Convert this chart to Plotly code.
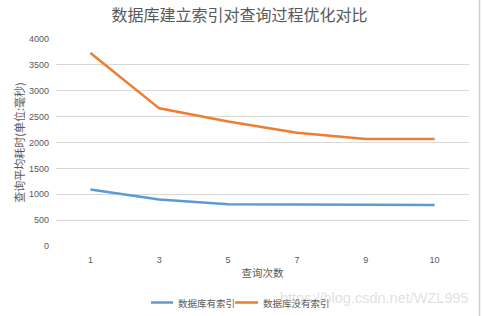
import plotly.graph_objects as go

categories = ["1", "3", "5", "7", "9", "10"]
with_index = [1090, 900, 805, 800, 795, 790]
without_index = [3730, 2660, 2405, 2187, 2070, 2070]
y_ticks = [0, 500, 1000, 1500, 2000, 2500, 3000, 3500, 4000]
series_names = ["数据库有索引", "数据库没有索引"]
series_colors = ["#5B9BD5", "#ED7D31"]

TXT = "#595959"
FONT = "Liberation Sans, Noto Sans CJK SC, sans-serif"
CJK = "Noto Sans CJK SC"

L, R, T, B = 56, 13, 39, 70
W, H = 482, 316
PW, PH = W - L - R, H - T - B


def px(x):
    return (x - L) / PW


def py(y):
    return 1 - (y - T) / PH


fig = go.Figure()
for name, vals, col in zip(series_names, [with_index, without_index], series_colors):
    fig.add_trace(go.Scatter(x=categories, y=vals, mode="lines", name=name,
                             line=dict(color=col, width=2.5), showlegend=False))

fig.update_layout(
    width=W, height=H,
    margin=dict(l=L, r=R, t=T, b=B, autoexpand=False),
    paper_bgcolor="white", plot_bgcolor="white",
    font=dict(family=FONT, color=TXT, size=9),
    title=dict(text="数据库建立索引对查询过程优化对比", x=0.497, xanchor="center",
               y=1 - 15 / H, yanchor="middle",
               font=dict(size=16, color=TXT, family=CJK)),
    xaxis=dict(type="category", range=[-0.5, 5.5], showgrid=False, zeroline=False, showline=False,
               ticks="", tickfont=dict(size=9, color=TXT), automargin=False,
               ticklabelstandoff=7,
               title=dict(text="查询次数", font=dict(size=10.5, color=TXT, family=CJK),
                          standoff=5)),
    yaxis=dict(range=[0, 4000], tickvals=y_ticks, showgrid=True, gridcolor="#D9D9D9",
               gridwidth=1, zeroline=False, showline=False, ticks="", automargin=False,
               tickfont=dict(size=9, color=TXT), ticklabelstandoff=6,
               title=dict(text="查询平均耗时(单位:毫秒)", font=dict(size=11, color=TXT, family=CJK),
                          standoff=2)),
    showlegend=False,
)

# manual legend
legend_items = [(151, 173, 176), (235, 258, 261)]
for (x0, x1, xt), name, col in zip(legend_items, series_names, series_colors):
    fig.add_shape(type="line", xref="paper", yref="paper", x0=px(x0), x1=px(x1),
                  y0=py(302.5), y1=py(302.5), line=dict(color=col, width=2.5))
    fig.add_annotation(text=name, xref="paper", yref="paper", x=px(xt), xanchor="left",
                       y=py(302.5), yanchor="middle", showarrow=False,
                       font=dict(size=9.5, color=TXT, family=CJK))

fig.add_annotation(text="https://blog.csdn.net/WZL995", xref="paper", yref="paper",
                   x=px(471), xanchor="right", y=py(298), yanchor="middle",
                   showarrow=False, font=dict(size=14.5, color="rgba(200,200,200,0.55)",
                                              family="Liberation Sans"))
fig.add_shape(type="line", xref="paper", yref="paper",
              x0=px(479.5), x1=px(479.5), y0=py(H), y1=py(0),
              line=dict(color="#D0D0D0", width=1.5))

fig.write_html("out.html")
